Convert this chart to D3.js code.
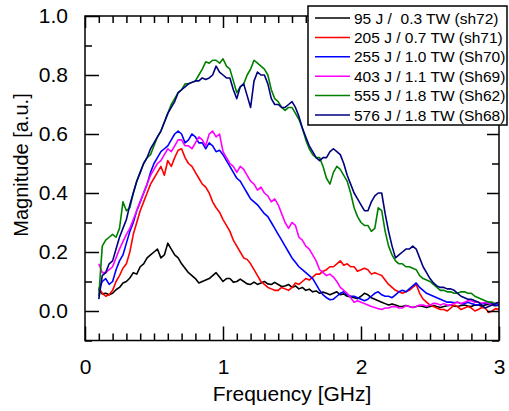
<!DOCTYPE html>
<html><head><meta charset="utf-8">
<script src="https://cdn.jsdelivr.net/npm/d3@7"></script>
<style>body{margin:0;background:#fff}svg{display:block}text{font-family:"Liberation Sans",Arial,sans-serif}</style>
</head><body>
<svg id="c" width="509" height="411"></svg>
<script>
// frequency grid: 0.100 .. 3.000 GHz in 0.025 steps (117 points)
const freq = d3.range(117).map(i => +(0.1 + i * 0.025).toFixed(3));
const labels = ["95 J /  0.3 TW (sh72)","205 J / 0.7 TW (sh71)","255 J / 1.0 TW (Sh70)","403 J / 1.1 TW (Sh69)","555 J / 1.8 TW (Sh62)","576 J / 1.8 TW (Sh68)"];
const colors = ["#000000","#ff0000","#0000ff","#ff00ff","#008000","#000080"];
const s95 = [
0.07,0.058,0.06,0.055, 0.06,0.072,0.08,0.095, 0.10,0.112,0.13,0.125, 0.15,0.16,0.18,0.19,
0.20,0.21,0.18,0.19, 0.23,0.21,0.19,0.18, 0.16,0.145,0.13,0.12, 0.11,0.095,0.10,0.105,
0.11,0.12,0.13,0.115, 0.10,0.11,0.11,0.098, 0.10,0.108,0.10,0.092, 0.09,0.098,0.09,0.095,
0.10,0.092,0.09,0.097, 0.09,0.083,0.085,0.09, 0.08,0.085,0.075,0.08, 0.07,0.074,0.065,0.068,
0.06,0.064,0.06,0.055, 0.06,0.065,0.055,0.058, 0.05,0.048,0.045,0.042, 0.05,0.06,0.055,0.045,
0.04,0.035,0.03,0.025, 0.02,0.024,0.02,0.016, 0.015,0.019,0.015,0.012, 0.015,0.018,0.015,0.012,
0.015,0.019,0.015,0.012, 0.015,0.018,0.02,0.016, 0.015,0.019,0.02,0.017, 0.015,0.02,0.02,0.016,
0.02,0.023,0.02,0.018, 0.02];
const s205 = [
0.08,0.06,0.05,0.055, 0.07,0.10,0.12,0.145, 0.16,0.20,0.26,0.30, 0.34,0.37,0.40,0.43,
0.45,0.47,0.49,0.46, 0.51,0.49,0.52,0.545, 0.55,0.52,0.50,0.49, 0.47,0.45,0.43,0.42,
0.40,0.37,0.35,0.335, 0.31,0.29,0.27,0.24, 0.22,0.20,0.18,0.175, 0.16,0.14,0.12,0.10,
0.09,0.08,0.075,0.07, 0.07,0.08,0.075,0.07, 0.08,0.095,0.09,0.10, 0.11,0.105,0.115,0.125,
0.125,0.135,0.14,0.15, 0.15,0.16,0.17,0.155, 0.16,0.15,0.15,0.135, 0.14,0.145,0.14,0.125,
0.13,0.125,0.12,0.105, 0.09,0.08,0.07,0.065, 0.06,0.065,0.07,0.08, 0.09,0.06,0.04,0.03,
0.02,0.015,0.01,0.005, 0.005,0.0,0.01,0.02, 0.015,0.005,0.01,0.015, 0.01,0.0,0.005,0.012,
0.01,-0.005,0.0,0.008, 0.005];
const s255 = [
0.07,0.10,0.11,0.09, 0.10,0.14,0.17,0.19, 0.23,0.27,0.30,0.34, 0.37,0.40,0.43,0.47,
0.50,0.52,0.54,0.55, 0.56,0.58,0.60,0.61, 0.60,0.57,0.58,0.60, 0.59,0.57,0.57,0.55,
0.57,0.56,0.54,0.545, 0.53,0.51,0.49,0.47, 0.45,0.44,0.42,0.40, 0.38,0.37,0.36,0.345,
0.33,0.32,0.30,0.28, 0.26,0.24,0.22,0.20, 0.18,0.165,0.15,0.14, 0.13,0.12,0.11,0.09,
0.07,0.055,0.045,0.038, 0.04,0.05,0.06,0.065, 0.055,0.05,0.05,0.045, 0.04,0.035,0.04,0.05,
0.06,0.065,0.055,0.05, 0.05,0.045,0.055,0.065, 0.07,0.065,0.075,0.085, 0.095,0.08,0.07,0.06,
0.055,0.05,0.045,0.04, 0.035,0.03,0.03,0.028, 0.03,0.025,0.025,0.03, 0.025,0.022,0.02,0.025,
0.025,0.03,0.025,0.02, 0.02];
const s403 = [
0.16,0.13,0.13,0.14, 0.15,0.18,0.21,0.235, 0.26,0.28,0.31,0.34, 0.37,0.40,0.43,0.46,
0.48,0.50,0.51,0.53, 0.55,0.54,0.56,0.58, 0.58,0.56,0.56,0.55, 0.57,0.59,0.58,0.56,
0.60,0.61,0.59,0.60, 0.54,0.52,0.50,0.49, 0.47,0.49,0.48,0.46, 0.44,0.43,0.41,0.42,
0.40,0.39,0.37,0.38, 0.36,0.33,0.30,0.28, 0.30,0.29,0.25,0.24, 0.22,0.21,0.19,0.17,
0.14,0.13,0.12,0.125, 0.115,0.10,0.08,0.07, 0.06,0.045,0.03,0.035, 0.03,0.025,0.02,0.015,
0.012,0.008,0.005,0.01, 0.01,0.015,0.015,0.01, 0.01,0.018,0.015,0.012, 0.015,0.02,0.02,0.016,
0.02,0.026,0.025,0.02, 0.025,0.02,0.02,0.026, 0.03,0.025,0.03,0.035, 0.035,0.03,0.03,0.026,
0.03,0.025,0.02,0.026, 0.03];
const s555 = [
0.05,0.22,0.24,0.25, 0.26,0.25,0.28,0.37, 0.34,0.35,0.40,0.44, 0.47,0.50,0.52,0.53,
0.56,0.59,0.61,0.64, 0.67,0.70,0.72,0.74, 0.75,0.77,0.77,0.775, 0.78,0.80,0.82,0.845,
0.84,0.85,0.85,0.84, 0.855,0.83,0.82,0.78, 0.74,0.76,0.77,0.80, 0.82,0.85,0.84,0.83,
0.82,0.80,0.75,0.72, 0.71,0.69,0.68,0.69, 0.69,0.67,0.65,0.62, 0.58,0.55,0.53,0.52,
0.52,0.49,0.45,0.43, 0.47,0.49,0.48,0.46, 0.44,0.40,0.35,0.32, 0.30,0.29,0.29,0.27,
0.28,0.35,0.34,0.27, 0.22,0.19,0.17,0.16, 0.16,0.15,0.15,0.145, 0.14,0.12,0.11,0.105,
0.10,0.09,0.08,0.07, 0.07,0.065,0.065,0.06, 0.06,0.065,0.065,0.06, 0.06,0.05,0.045,0.04,
0.035,0.03,0.03,0.025, 0.03];
const s576 = [
0.04,0.12,0.13,0.16, 0.17,0.21,0.25,0.28, 0.31,0.36,0.40,0.44, 0.47,0.50,0.52,0.55,
0.57,0.59,0.61,0.64, 0.67,0.69,0.71,0.74, 0.75,0.76,0.77,0.775, 0.78,0.78,0.79,0.785,
0.79,0.80,0.83,0.81, 0.80,0.79,0.79,0.75, 0.72,0.76,0.77,0.73, 0.69,0.78,0.81,0.80,
0.80,0.77,0.72,0.70, 0.70,0.69,0.69,0.70, 0.71,0.69,0.66,0.62, 0.59,0.56,0.54,0.52,
0.51,0.52,0.52,0.54, 0.55,0.54,0.53,0.50, 0.46,0.43,0.40,0.38, 0.36,0.34,0.34,0.37,
0.39,0.40,0.40,0.33, 0.27,0.22,0.18,0.19, 0.20,0.21,0.21,0.22, 0.21,0.18,0.15,0.13,
0.11,0.095,0.085,0.08, 0.08,0.075,0.075,0.07, 0.06,0.05,0.045,0.04, 0.04,0.035,0.03,0.02,
0.01,0.015,0.02,0.025, 0.03];
const series = [s95, s205, s255, s403, s555, s576];
const xTicks = [0,1,2,3];
const yTicks = [0.0,0.2,0.4,0.6,0.8,1.0];

const svg = d3.select("#c");
const L = 85, R = 499, T = 16, B = 340.5;
const x = d3.scaleLinear().domain([0,3]).range([L,R]);
const y = d3.scaleLinear().domain([-0.1,1.0]).range([B,T]);

const line = d3.line().x((d,i)=>x(freq[i])).y(d=>y(d));
series.forEach((s,k)=>{
  svg.append("path").datum(s).attr("d", line).attr("fill","none")
    .attr("stroke", colors[k]).attr("stroke-width",1.6).attr("stroke-linejoin","round");
});

const minorX = d3.range(1,30).map(i=>i/10).filter(v=>Math.abs(v-Math.round(v))>1e-6);
const minorY = [-0.1,0.1,0.3,0.5,0.7,0.9];
const gBottom = svg.append("g").attr("transform",`translate(0,${B})`);
gBottom.call(d3.axisBottom(x).tickValues(xTicks).tickSize(-14).tickPadding(19).tickFormat(d3.format("d")));
gBottom.append("g").call(d3.axisBottom(x).tickValues(minorX).tickSize(-7).tickFormat(""));
const gTop = svg.append("g").attr("transform",`translate(0,${T})`);
gTop.call(d3.axisTop(x).tickValues(xTicks).tickSize(-12).tickFormat(""));
gTop.append("g").call(d3.axisTop(x).tickValues(minorX).tickSize(-7).tickFormat(""));
const gLeft = svg.append("g").attr("transform",`translate(${L},0)`);
gLeft.call(d3.axisLeft(y).tickValues(yTicks).tickSize(-14).tickPadding(17).tickFormat(d3.format(".1f")));
gLeft.append("g").call(d3.axisLeft(y).tickValues(minorY).tickSize(-7).tickFormat(""));
const gRight = svg.append("g").attr("transform",`translate(${R},0)`);
gRight.call(d3.axisRight(y).tickValues(yTicks).tickSize(-12).tickFormat(""));
gRight.append("g").call(d3.axisRight(y).tickValues(minorY).tickSize(-7).tickFormat(""));
svg.selectAll(".domain").remove();
svg.selectAll(".tick line").attr("stroke","#000").attr("stroke-width",1.5);
svg.selectAll(".tick text").attr("font-size",21).attr("fill","#000").attr("font-family","Liberation Sans, Arial, sans-serif");
svg.append("rect").attr("x",L).attr("y",T).attr("width",R-L).attr("height",B-T)
  .attr("fill","none").attr("stroke","#000").attr("stroke-width",1.5);

svg.append("text").attr("x",(L+R)/2).attr("y",401).attr("text-anchor","middle")
  .attr("font-size",21).text("Frequency [GHz]");
svg.append("text").attr("transform","translate(28,165) rotate(-90)").attr("text-anchor","middle")
  .attr("font-size",20).text("Magnitude [a.u.]");

const lg = svg.append("g");
lg.append("rect").attr("x",308).attr("y",6).attr("width",199).attr("height",119)
  .attr("fill","#fff").attr("stroke","#000").attr("stroke-width",1.5);
labels.forEach((t,i)=>{
  const cy = 18 + i*19.4;
  lg.append("line").attr("x1",315).attr("x2",350).attr("y1",cy).attr("y2",cy)
    .attr("stroke",colors[i]).attr("stroke-width",1.5);
  lg.append("text").attr("x",354).attr("y",cy+5.5).attr("font-size",15.5).style("white-space","pre").text(t);
});
</script>
</body></html>
